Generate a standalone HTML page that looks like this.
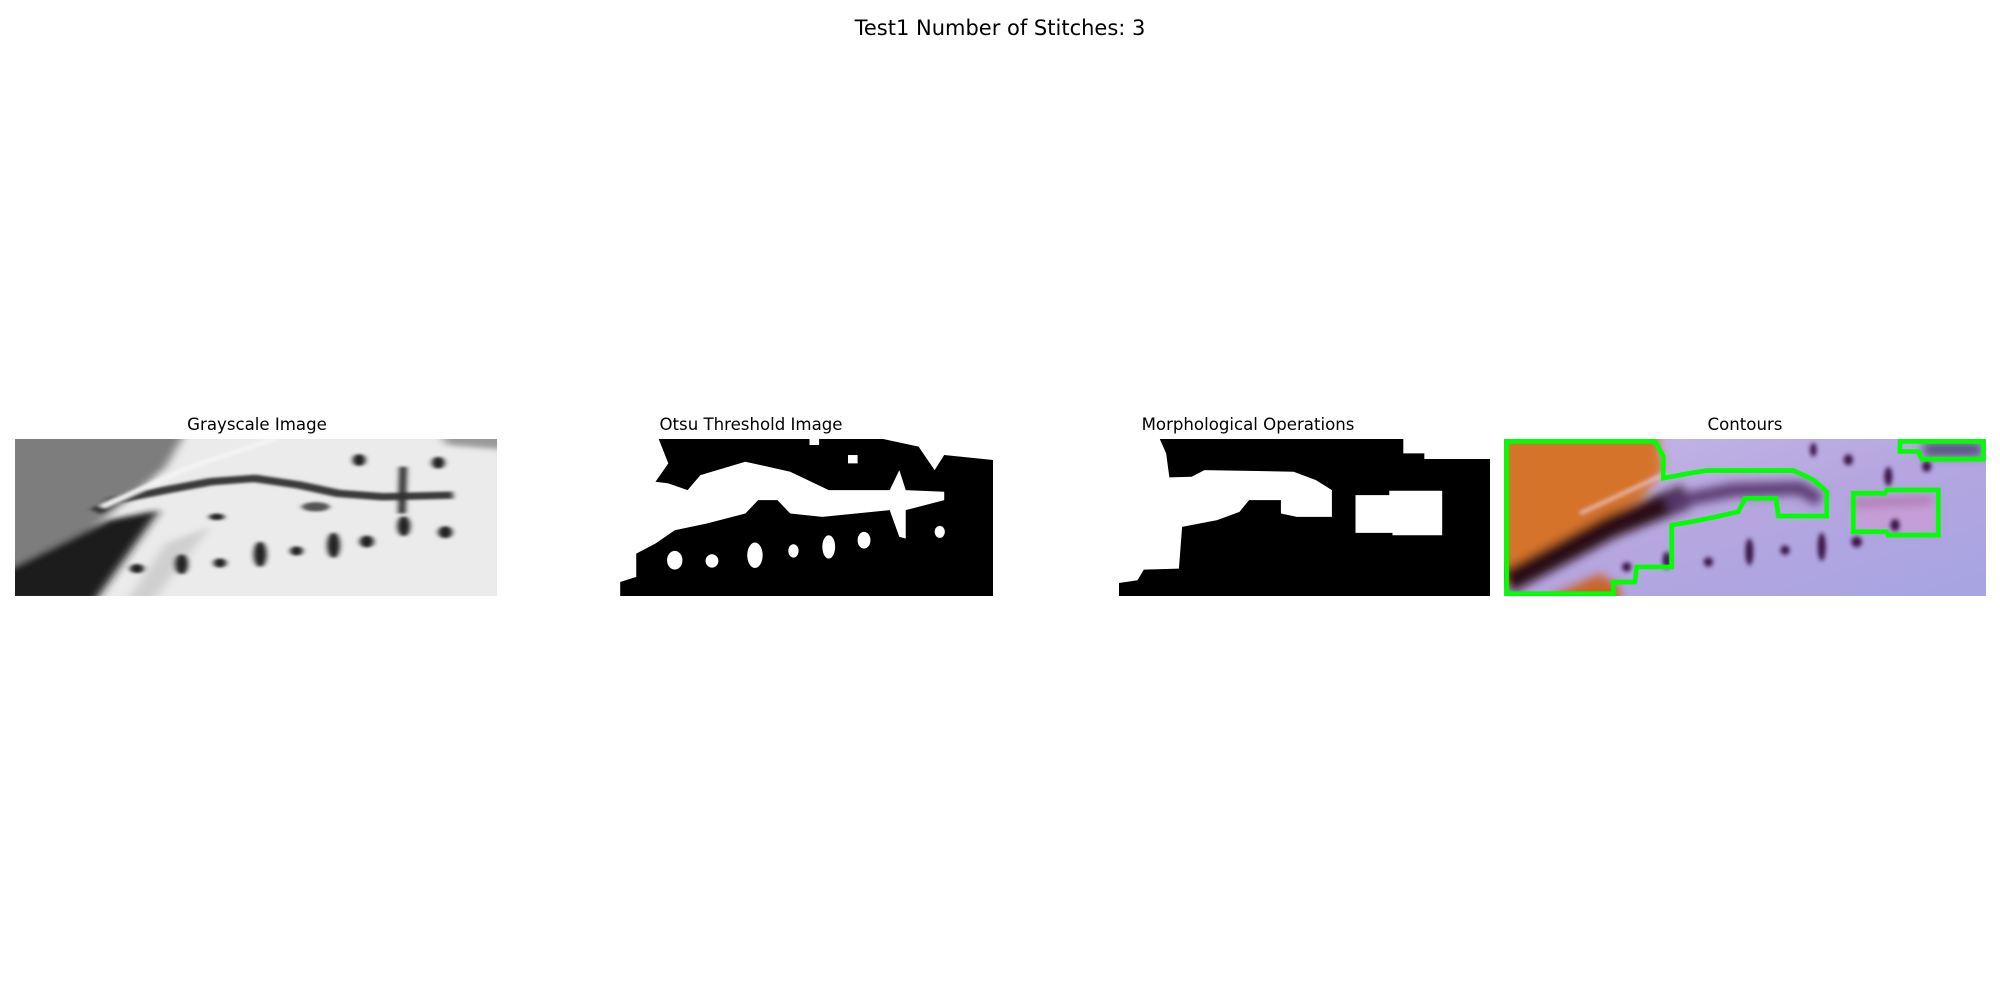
<!DOCTYPE html>
<html><head><meta charset="utf-8"><style>
html,body{margin:0;padding:0;background:#fff;}
body{width:2000px;height:1000px;position:relative;overflow:hidden;font-family:"DejaVu Sans","Liberation Sans",sans-serif;}
.t{position:absolute;color:#000;white-space:nowrap;transform:translateX(-50%);}
svg{position:absolute;}
</style></head><body>
<div class="t" style="left:1000px;top:16px;font-size:21px;">Test1 Number of Stitches: 3</div>
<div class="t" style="left:257px;top:415px;font-size:16.6px;">Grayscale Image</div>
<div class="t" style="left:751px;top:415px;font-size:16.6px;">Otsu Threshold Image</div>
<div class="t" style="left:1248px;top:415px;font-size:16.6px;">Morphological Operations</div>
<div class="t" style="left:1745px;top:415px;font-size:16.6px;">Contours</div>

<svg style="left:15px;top:439px" width="482" height="157" viewBox="24 117 755 470" preserveAspectRatio="none">
<defs><filter id="b1" x="-20%" y="-20%" width="140%" height="140%"><feGaussianBlur stdDeviation="8"/></filter><filter id="b2"><feGaussianBlur stdDeviation="4"/></filter></defs>
<rect x="24" y="117" width="755" height="470" fill="#ebebeb"/>
<g filter="url(#b1)">
<polygon points="0,100 290,100 260,200 200,300 120,420 0,580" fill="#7d7d7d"/>
<polygon points="690,100 800,100 800,150 700,135" fill="#9a9a9a"/>
<polygon points="0,600 0,520 170,360 250,330 150,600" fill="#1a1a1a"/>
<polygon points="200,600 260,430 330,380 240,600" fill="#cfcfcf"/>
</g>
<g filter="url(#b2)">
<path d="M150,335 L180,300 260,270 330,245 400,235 470,255 530,280 600,290 710,285" stroke="#3a3a3a" stroke-width="22" fill="none"/>
<path d="M160,320 L300,200 430,117" stroke="#f4f4f4" stroke-width="12" fill="none"/>
<path d="M632,200 L630,340" stroke="#333" stroke-width="12"/>
<g fill="#222">
<ellipse cx="215" cy="505" rx="11" ry="14"/><ellipse cx="285" cy="492" rx="10" ry="30"/>
<ellipse cx="345" cy="488" rx="10" ry="14"/><ellipse cx="408" cy="462" rx="10" ry="38"/>
<ellipse cx="465" cy="452" rx="10" ry="14"/><ellipse cx="523" cy="435" rx="10" ry="38"/>
<ellipse cx="575" cy="424" rx="11" ry="18"/><ellipse cx="633" cy="378" rx="10" ry="30"/>
<ellipse cx="698" cy="396" rx="11" ry="18"/><ellipse cx="563" cy="180" rx="10" ry="18"/>
<ellipse cx="687" cy="188" rx="10" ry="18"/><ellipse cx="340" cy="350" rx="12" ry="10"/>
<ellipse cx="495" cy="320" rx="22" ry="14" fill="#555"/>
</g></g>
</svg>

<svg style="left:617px;top:439px" width="376" height="157" viewBox="970 117 586 470" preserveAspectRatio="none">
<polygon fill="#000" points="1035,117 1270,117 1270,135 1285,135 1285,117 1385,117 1440,140 1465,210 1480,165 1556,180 1556,587 975,587 975,545 1000,530 1000,460 1030,430 1060,390 1110,370 1170,340 1190,300 1220,300 1240,340 1290,350 1395,330 1410,410 1420,415 1420,330 1480,300 1480,275 1420,270 1410,210 1395,270 1300,270 1240,215 1170,185 1100,225 1080,270 1050,250 1030,245 1050,190"/>
<g fill="#fff">
<rect x="1330" y="165" width="15" height="25"/>
<ellipse cx="1060" cy="480" rx="12" ry="28"/><ellipse cx="1118" cy="482" rx="10" ry="20"/>
<ellipse cx="1185" cy="465" rx="12" ry="38"/><ellipse cx="1245" cy="452" rx="8" ry="20"/>
<ellipse cx="1300" cy="440" rx="10" ry="35"/><ellipse cx="1355" cy="420" rx="10" ry="25"/>
<ellipse cx="1473" cy="395" rx="8" ry="18"/>
</g>
</svg>

<svg style="left:1119px;top:439px" width="371" height="157" viewBox="186 117 582 470" preserveAspectRatio="none">
<polygon fill="#000" points="250,117 632,117 632,160 665,160 665,177 768,177 768,587 186,587 186,548 215,540 225,508 280,505 285,380 340,360 375,335 390,300 440,300 440,340 465,350 520,350 520,270 495,240 460,215 320,210 300,230 265,232 260,160"/>
<polygon fill="#fff" points="557,285 610,285 610,272 693,272 693,405 615,405 615,398 557,398"/>
</svg>

<svg style="left:1504px;top:439px" width="482" height="157" viewBox="12 28 1446 469" preserveAspectRatio="none">
<defs><filter id="b3" x="-20%" y="-20%" width="140%" height="140%"><feGaussianBlur stdDeviation="14"/></filter><filter id="b4"><feGaussianBlur stdDeviation="6"/></filter>
<linearGradient id="lav" x1="0" y1="0" x2="1" y2="1"><stop offset="0" stop-color="#c4b8e6"/><stop offset="0.5" stop-color="#b6a6e0"/><stop offset="1" stop-color="#a6a4e2"/></linearGradient></defs>
<rect x="12" y="28" width="1446" height="469" fill="url(#lav)"/>
<g filter="url(#b3)">
<polygon points="0,0 470,0 490,120 420,210 260,290 100,400 0,470" fill="#d6732c"/>
<polygon points="150,497 300,430 360,470 360,520 140,520" fill="#c8652a"/>
<path d="M20,455 L200,360 330,290 480,230 560,200" stroke="#2a0c16" stroke-width="70" fill="none"/>
<path d="M500,220 L700,180 900,175 960,210" stroke="#5a3a70" stroke-width="40" fill="none"/>
<path d="M1060,220 L1300,210" stroke="#6a3a70" stroke-width="22" fill="none"/>
<polygon points="1060,200 1310,190 1310,310 1060,300" fill="#d49ad0" opacity="0.6"/>
<rect x="1270" y="40" width="175" height="40" fill="#505078"/>
</g>
<path d="M240,250 L500,130" stroke="#e8c8d0" stroke-width="10" fill="none" filter="url(#b4)"/>
<g fill="#3a1548" filter="url(#b4)">
<ellipse cx="380" cy="410" rx="14" ry="14"/><ellipse cx="500" cy="390" rx="12" ry="25"/>
<ellipse cx="625" cy="395" rx="14" ry="14"/><ellipse cx="748" cy="365" rx="12" ry="40"/>
<ellipse cx="855" cy="360" rx="14" ry="14"/><ellipse cx="965" cy="350" rx="12" ry="42"/>
<ellipse cx="1070" cy="335" rx="16" ry="16"/><ellipse cx="1185" cy="285" rx="14" ry="18"/>
<ellipse cx="1045" cy="90" rx="14" ry="16"/><ellipse cx="1165" cy="140" rx="12" ry="28"/>
<ellipse cx="1280" cy="110" rx="14" ry="16"/><ellipse cx="940" cy="60" rx="10" ry="20"/>
</g>
<g fill="none" stroke="#00ff00" stroke-width="14" stroke-linejoin="miter">
<path d="M20,35 L465,35 490,80 490,145 570,130 620,122 880,122 940,150 980,185 980,258 835,258 828,205 735,205 715,245 640,262 575,275 515,285 515,410 410,410 405,455 340,455 340,490 20,490 Z"/>
<path d="M1060,190 L1155,190 1160,180 1315,180 1315,315 1165,315 1160,305 1060,305 Z"/>
<path d="M1200,35 L1450,35 1450,88 1265,88 1255,65 1200,65 Z"/>
</g>
</svg>
</body></html>
